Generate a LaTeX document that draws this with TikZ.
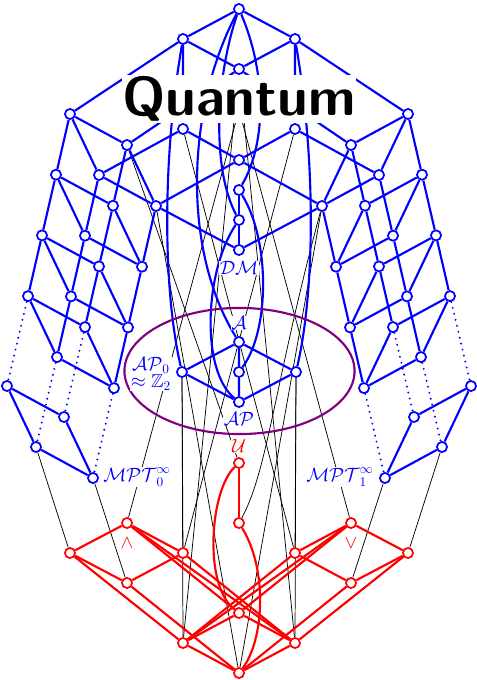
\documentclass[tikz,border=0pt]{standalone}
\usepackage{amsmath,amssymb}
\usepackage{tikz}
\usetikzlibrary{backgrounds}

\begin{document}
\begin{tikzpicture}[x=0.75pt,y=-0.75pt,
  bnode/.style={circle,draw=blue,fill=white,line width=1.3pt,inner sep=0pt,minimum size=7.6pt},
  rnode/.style={bnode,draw=red},
  bedge/.style={draw=blue,line width=1.6pt},
  redge/.style={draw=red,line width=1.6pt},
  dotlink/.style={bedge,line cap=round,dash pattern=on 0pt off 4.6pt},
  link/.style={draw=black,line width=0.55pt},
  blabel/.style={text=blue,font=\fontsize{14}{16}\selectfont,fill=white,inner sep=0.5pt},
  rlabel/.style={blabel,text=red}
]
\useasboundingbox (0,0) rectangle (476,680);

% side lattices (left and mirrored right)
\foreach \s/\m in {l/1,r/-1}{
  \foreach \i in {0,1}{
    \foreach \b in {0,1}{
      \foreach \a in {0,...,3}
        \node[bnode] (\s\i\a\b) at ({239+\m*(57*\i-14*\a+29*\b-169)},{114+31*\i+60.7*\a+61*\b}) {};
      \node[bnode] (\s\i4\b) at ({239+\m*(57*\i+29*\b-232)},{386+31*\i+61*\b}) {};
    }
  }
}
\foreach \s in {l,r}{
  \foreach \a in {0,...,4} \foreach \b in {0,1} \draw[bedge] (\s0\a\b) -- (\s1\a\b);
  \foreach \i in {0,1} \foreach \a in {0,...,4} \draw[bedge] (\s\i\a0) -- (\s\i\a1);
  \foreach \i in {0,1} \foreach \b in {0,1}{
    \foreach \a/\n in {0/1,1/2,2/3} \draw[bedge] (\s\i\a\b) -- (\s\i\n\b);
    \draw[dotlink] (\s\i3\b) -- (\s\i4\b);
  }
}

% middle part
\node[bnode] (top) at (239,9) {};
\node[bnode] (ql) at (183,39) {};
\node[bnode] (qr) at (295,39) {};
\node[bnode] (qm) at (239,69) {};
\node[bnode] (ql2) at (183,129) {};
\node[bnode] (qr2) at (295,129) {};
\node[bnode] (c1) at (239,160) {};
\node[bnode] (c2) at (239,190) {};
\node[bnode] (c3) at (239,220) {};
\node[bnode] (dm) at (239,250) {};
\node[bnode] (a) at (239,342) {};
\node[bnode] (p0) at (182,372) {};
\node[bnode] (pc) at (239,372) {};
\node[bnode] (pr) at (296,372) {};
\node[bnode] (ap) at (239,402) {};

\draw[bedge] (top) -- (ql) -- (qm) -- (qr) -- (top);
\draw[bedge] (ql) -- (l000);
\draw[bedge] (qr) -- (r000);
\draw[bedge] (qm) -- (l100);
\draw[bedge] (qm) -- (r100);
\draw[bedge] (ql) -- (ql2) -- (l001);
\draw[bedge] (qr) -- (qr2) -- (r001);
\draw[bedge] (ql2) -- (c1) -- (qr2);
\draw[bedge] (l101) -- (c1) -- (r101);
\draw[bedge] (l101) -- (dm) -- (r101);
\draw[bedge] (c2) -- (c3) -- (dm);
\draw[bedge] (a) -- (p0) -- (ap) -- (pr) -- (a) -- (pc) -- (ap);
\draw[bedge] (ql) .. controls (162,160) and (163,290) .. (p0);
\draw[bedge] (qr) .. controls (316,160) and (315,290) .. (pr);
\draw[bedge] (top) .. controls (186,110) and (182,250) .. (a);
\draw[bedge] (top) .. controls (215,80) and (212,170) .. (c3);
\draw[bedge] (top) .. controls (265,70) and (268,140) .. (c2);
\draw[bedge] (c2) .. controls (270,240) and (270,330) .. (pc);
\draw[bedge] (c3) .. controls (205,270) and (200,370) .. (ap);

\draw[draw={rgb,255:red,128;green,0;blue,128},line width=1.6pt] (239.5,371) ellipse [x radius=86.3pt,y radius=47.3pt];

% red lattice
\node[rnode] (u) at (239,463) {};
\node[rnode] (u2) at (239,523) {};
\node[rnode] (wedge) at (127,523) {};
\node[rnode] (vee) at (351,523) {};
\node[rnode] (lw) at (70,553) {};
\node[rnode] (le) at (183,553) {};
\node[rnode] (ls) at (127,583) {};
\node[rnode] (rw) at (295,553) {};
\node[rnode] (re) at (408,553) {};
\node[rnode] (rs) at (351,583) {};
\node[rnode] (mid) at (239,613) {};
\node[rnode] (bl) at (183,643) {};
\node[rnode] (br) at (295,643) {};
\node[rnode] (bot) at (239,673) {};

\draw[redge] (wedge) -- (lw) -- (ls) -- (le) -- (wedge);
\draw[redge] (vee) -- (rw) -- (rs) -- (re) -- (vee);
\draw[redge] (mid) -- (bl) -- (bot) -- (br) -- (mid);
\draw[redge] (wedge) -- (mid) -- (vee);
\draw[redge] (lw) -- (bl) -- (rw);
\draw[redge] (le) -- (br) -- (re);
\draw[redge] (ls) -- (bot) -- (rs);
\draw[redge] (wedge) -- (br);
\draw[redge] (vee) -- (bl);
\draw[redge] (u) -- (u2);
\draw[redge] (u) .. controls (210,490) and (203,585) .. (mid);
\draw[redge] (u2) .. controls (268,570) and (264,640) .. (bot);

% black links
\coordinate (q) at (239,110);
\begin{scope}[on background layer]
\draw[link] (q) -- (wedge);
\draw[link] (q) -- (vee);
\draw[link] (ql2) -- (rw);
\draw[link] (qr2) -- (le);
\draw[link] (l041) -- (lw);
\draw[link] (l141) -- (ls);
\draw[link] (r041) -- (re);
\draw[link] (r141) -- (rs);
\draw[link] (p0) -- (le);
\draw[link] (p0) -- (bl);
\draw[link] (pr) -- (rw);
\draw[link] (pr) -- (br);
\draw[link] (qm) -- (bl);
\draw[link] (qm) -- (br);
\draw[link] (l100) -- (u);
\draw[link] (l101) -- (bot);
\draw[link] (r101) -- (bot);
\draw[link] (r101) .. controls (275,380) and (268,470) .. (u2);
\end{scope}

% labels
\node[blabel] (dmlab) at (239,268) {$\mathcal{DM}$};
\node[blabel] (alab) at (239,323) {$\mathcal{A}$};
\node[blabel] (aplab) at (239,419) {$\mathcal{AP}$};
\node[blabel,align=center] (p0lab) at (151,374) {$\mathcal{AP}_0$\\[-3pt]$\approx\mathbb{Z}_2$};
\node[blabel] (mpt0) at (137,477) {$\mathcal{MPT}_0^\infty$};
\node[blabel] (mpt1) at (340,477) {$\mathcal{MPT}_1^\infty$};
\node[rlabel] (ulab) at (239,446) {$\mathcal{U}$};
\node[rlabel] (wlab) at (127,543) {$\wedge$};
\node[rlabel] (vlab) at (351,543) {$\vee$};
\node[fill=white,inner sep=0pt,minimum width=175pt,minimum height=36pt,
  font=\fontsize{41}{41}\selectfont\sffamily\bfseries] (quantum) at (239,99) {Quantum};
\end{tikzpicture}
\end{document}
